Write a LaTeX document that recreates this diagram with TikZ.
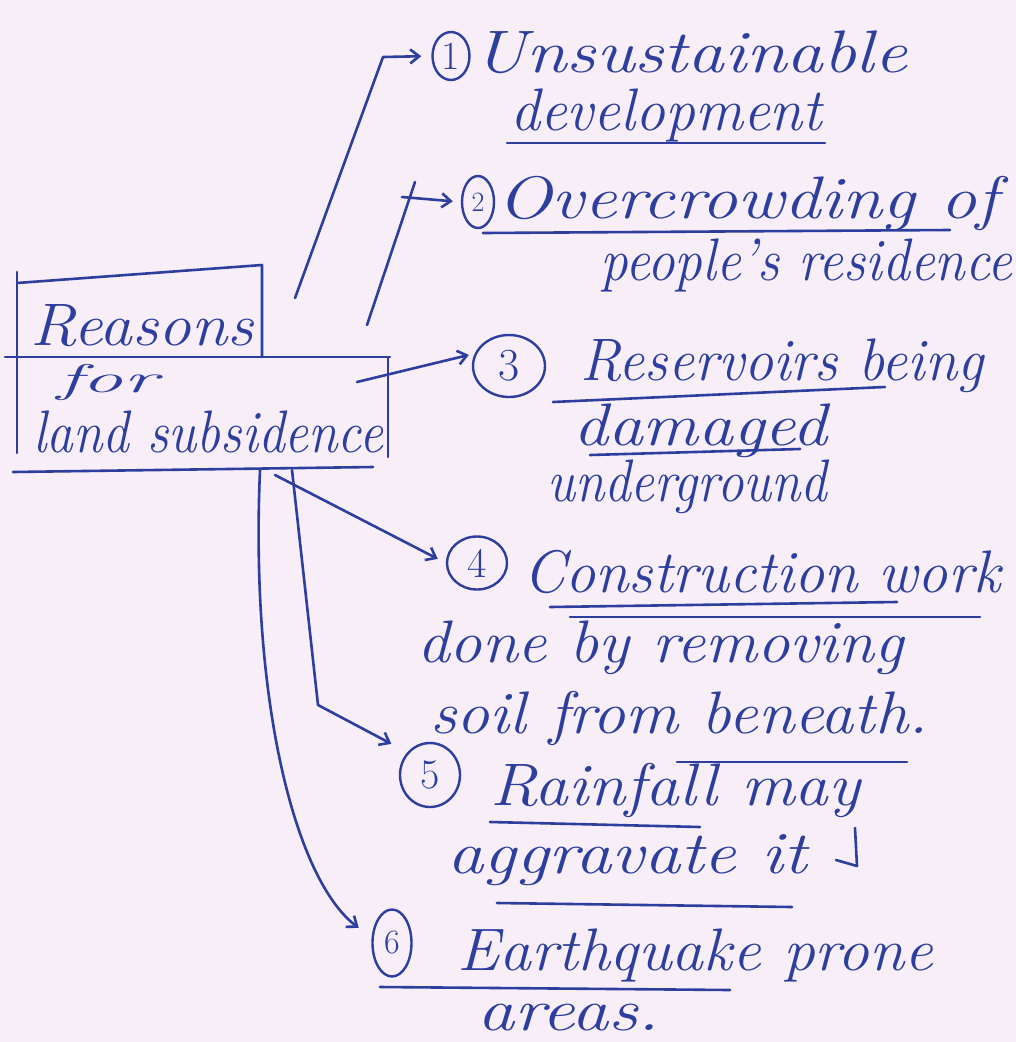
\documentclass[tikz,border=0pt]{standalone}
\usepackage{fontspec}
\usepackage{graphicx}
\usetikzlibrary{arrows.meta,shapes.geometric}
\definecolor{paper}{HTML}{F7EEF7}
\definecolor{ink}{HTML}{2D3E9E}
% stretch a line of text horizontally to a given width (in pt)
\newcommand\fitw[2]{\resizebox{#1pt}{\height}{#2}}
\tikzset{
  txt/.style={anchor=base west, inner sep=0pt, text=ink,
    font=\fontsize{60}{66}\selectfont\itshape},
  pen/.style={draw=ink, line width=2.6pt, line cap=round, line join=round},
  tip/.style={-{Straight Barb[length=9pt,width=14pt]}},
  num/.style={draw=ink, line width=2.4pt, ellipse, inner sep=0pt, text=ink},
}
\begin{document}
\begin{tikzpicture}[x=1pt,y=-1pt]
\fill[paper] (0,0) rectangle (1016,1042);
\useasboundingbox (0,0) rectangle (1016,1042);

% title box
\draw[pen] (17,283) -- (262,265) -- (262,357);
\draw[pen] (17,272) -- (17,453);
\draw[pen] (5,357) -- (390,357);
\draw[pen] (388,357) -- (388,457);
\draw[pen] (13,472) -- (373,467);
\node[txt] (b1) at (30,345) {\fitw{223}{Reasons}};
\node[txt, font=\fontsize{40}{44}\selectfont\itshape] (b2) at (57,392) {\fitw{100}{for}};
\node[txt] (b3) at (33,452) {\fitw{350}{land subsidence}};

% circled numbers
\node[num, minimum width=37pt, minimum height=48pt, font=\fontsize{40}{40}\selectfont] (n1) at (451,56) {1};
\node[num, minimum width=32pt, minimum height=52pt, font=\fontsize{28}{28}\selectfont] (n2) at (478,202) {2};
\node[num, minimum width=72pt, minimum height=62pt, font=\fontsize{46}{46}\selectfont] (n3) at (509,366) {3};
\node[num, minimum width=60pt, minimum height=53pt, font=\fontsize{42}{42}\selectfont] (n4) at (477,563) {4};
\node[num, minimum width=60pt, minimum height=64pt, font=\fontsize{42}{42}\selectfont] (n5) at (430,775) {5};
\node[num, minimum width=39pt, minimum height=67pt, font=\fontsize{34}{34}\selectfont] (n6) at (392,943) {6};

% item texts
\node[txt] (u1) at (473,72) {\fitw{434}{Unsustainable}};
\node[txt] (u2) at (510,130) {\fitw{312}{development}};
\node[txt] (o1) at (497,218) {\fitw{501}{Overcrowding of}};
\node[txt] (o2) at (600,280) {\fitw{412}{people's residence}};
\node[txt] (r1) at (580,380) {\fitw{403}{Reservoirs being}};
\node[txt] (r2) at (573,445) {\fitw{254}{damaged}};
\node[txt] (r3) at (547,501) {\fitw{280}{underground}};
\node[txt] (c1) at (523,592) {\fitw{477}{Construction work}};
\node[txt] (c2) at (417,662) {\fitw{486}{done by removing}};
\node[txt] (c3) at (430,733) {\fitw{498}{soil from beneath.}};
\node[txt] (f1) at (490,805) {\fitw{370}{Rainfall may}};
\node[txt] (f2) at (447,873) {\fitw{360}{aggravate it}};
\node[txt] (e1) at (457,970) {\fitw{476}{Earthquake prone}};
\node[txt] (e2) at (477,1030) {\fitw{183}{areas.}};

% underlines and marks
\draw[pen] (507,143) -- (825,143);
\draw[pen] (483,233) -- (950,230);
\draw[pen] (553,402) -- (885,387);
\draw[pen] (590,455) -- (800,449);
\draw[pen] (550,607) -- (897,602);
\draw[pen] (570,617) -- (980,617);
\draw[pen] (677,762) -- (907,762);
\draw[pen] (490,822) -- (700,827);
\draw[pen] (497,903) -- (792,907);
\draw[pen] (380,987) -- (730,990);
\draw[pen] (855,828) -- (857,866) -- (836,860);

% connectors
\coordinate (s1) at (295,298);
\coordinate (k1) at (383,57);
\draw[pen, tip, shorten >=10pt] (s1) -- (k1) -- (n1.west);

\coordinate (s2) at (367,325);
\coordinate (k2) at (415,182);
\coordinate (h2) at (402,197);
\draw[pen] (s2) -- (k2);
\draw[pen, tip, shorten >=8pt] (h2) -- (n2.west);

\coordinate (s3) at (357,382);
\draw[pen, tip, shorten >=6pt] (s3) -- (n3.160);

\coordinate (s4) at (275,475);
\draw[pen, tip, shorten >=9pt] (s4) -- (n4.west);

\coordinate (s5) at (292,470);
\coordinate (k5) at (318,705);
\draw[pen, tip, shorten >=18pt] (s5) -- (k5) -- (n5.135);

\coordinate (s6) at (260,470);
\draw[pen, tip, shorten >=16pt] (s6) .. controls (250,700) and (295,880) .. (n6.165);
\end{tikzpicture}
\end{document}
